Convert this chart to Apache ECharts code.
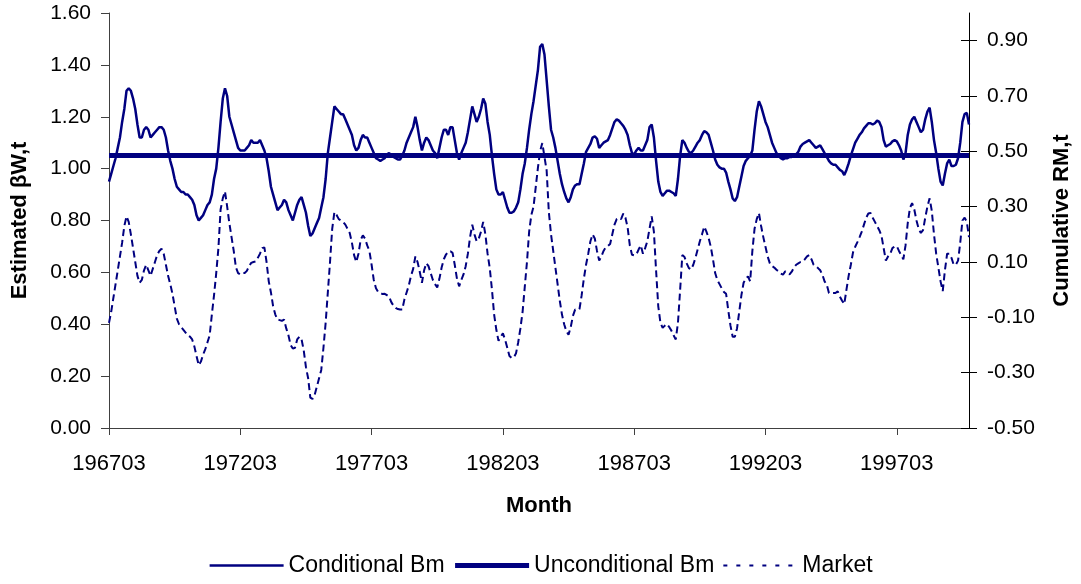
<!DOCTYPE html>
<html>
<head>
<meta charset="utf-8">
<script src="https://cdn.jsdelivr.net/npm/echarts@6/dist/echarts.min.js"></script>
<style>
  html, body { margin: 0; padding: 0; background: #fff; }
  #chart { width: 1081px; height: 584px; }
</style>
</head>
<body>
<div id="chart"></div>
<script>
// monthly values, 196703 .. 199912
const conditionalBm = [
  0.95,0.98,1.01,1.04,1.08,1.12,1.18,1.23,1.30,1.31,
  1.30,1.27,1.23,1.17,1.12,1.12,1.15,1.16,1.15,1.12,
  1.13,1.14,1.15,1.16,1.16,1.15,1.12,1.07,1.03,1.00,
  0.96,0.93,0.92,0.91,0.91,0.90,0.90,0.89,0.88,0.86,
  0.82,0.80,0.81,0.82,0.84,0.86,0.87,0.90,0.96,1.00,
  1.08,1.18,1.27,1.31,1.28,1.20,1.17,1.14,1.11,1.08,
  1.07,1.07,1.07,1.08,1.09,1.11,1.10,1.10,1.10,1.11,
  1.09,1.07,1.04,0.99,0.93,0.90,0.87,0.84,0.85,0.86,
  0.88,0.87,0.84,0.82,0.80,0.83,0.86,0.88,0.89,0.86,
  0.83,0.78,0.74,0.75,0.77,0.79,0.81,0.85,0.89,0.96,
  1.06,1.12,1.18,1.24,1.23,1.22,1.21,1.21,1.19,1.17,
  1.15,1.13,1.09,1.07,1.08,1.11,1.13,1.12,1.12,1.10,
  1.08,1.06,1.04,1.035,1.03,1.035,1.04,1.055,1.06,1.05,
  1.045,1.04,1.035,1.035,1.05,1.07,1.10,1.12,1.14,1.16,
  1.20,1.16,1.11,1.07,1.10,1.12,1.11,1.09,1.07,1.06,
  1.04,1.08,1.12,1.15,1.15,1.13,1.16,1.16,1.11,1.06,
  1.035,1.06,1.08,1.10,1.14,1.19,1.24,1.21,1.18,1.20,
  1.23,1.27,1.25,1.18,1.13,1.05,0.98,0.92,0.90,0.90,
  0.91,0.88,0.85,0.83,0.83,0.835,0.85,0.87,0.92,0.98,
  1.02,1.08,1.15,1.21,1.26,1.32,1.38,1.47,1.48,1.44,
  1.34,1.24,1.15,1.12,1.08,1.03,0.98,0.94,0.91,0.885,
  0.87,0.89,0.92,0.935,0.94,0.94,0.98,1.02,1.065,1.08,
  1.095,1.12,1.125,1.115,1.08,1.09,1.10,1.105,1.11,1.13,
  1.155,1.18,1.19,1.185,1.175,1.165,1.15,1.13,1.09,1.06,
  1.055,1.07,1.08,1.07,1.07,1.09,1.11,1.16,1.17,1.12,
  1.03,0.95,0.91,0.895,0.905,0.915,0.915,0.91,0.905,0.895,
  0.96,1.05,1.11,1.10,1.08,1.065,1.06,1.07,1.085,1.10,
  1.11,1.13,1.145,1.14,1.13,1.10,1.07,1.035,1.015,1.005,
  1.00,1.00,0.985,0.95,0.92,0.885,0.875,0.89,0.93,0.97,
  1.01,1.03,1.04,1.05,1.07,1.15,1.22,1.26,1.24,1.21,
  1.18,1.16,1.13,1.10,1.08,1.06,1.05,1.04,1.035,1.04,
  1.04,1.045,1.045,1.05,1.055,1.065,1.085,1.095,1.10,1.105,
  1.11,1.10,1.09,1.08,1.085,1.09,1.075,1.06,1.045,1.03,
  1.02,1.015,1.015,1.005,0.995,0.99,0.975,0.995,1.02,1.05,
  1.075,1.10,1.115,1.13,1.14,1.155,1.165,1.175,1.175,1.17,
  1.175,1.185,1.18,1.16,1.11,1.085,1.09,1.095,1.105,1.11,
  1.105,1.09,1.07,1.035,1.06,1.13,1.17,1.19,1.20,1.18,
  1.16,1.14,1.15,1.19,1.22,1.235,1.18,1.11,1.06,1.00,
  0.95,0.935,0.98,1.02,1.035,1.01,1.01,1.015,1.04,1.10,
  1.18,1.21,1.215,1.17
];

const market = [
  -0.12,-0.08,-0.03,0.02,0.07,0.12,0.17,0.23,0.265,0.245,
  0.20,0.15,0.10,0.05,0.025,0.035,0.07,0.09,0.07,0.05,
  0.075,0.10,0.125,0.14,0.148,0.13,0.09,0.05,0.02,-0.015,
  -0.06,-0.105,-0.125,-0.135,-0.145,-0.155,-0.165,-0.17,-0.18,-0.205,
  -0.24,-0.273,-0.26,-0.235,-0.215,-0.19,-0.165,-0.09,-0.02,0.06,
  0.15,0.29,0.33,0.355,0.30,0.24,0.19,0.14,0.08,0.06,
  0.055,0.06,0.06,0.068,0.085,0.097,0.10,0.102,0.115,0.13,
  0.15,0.153,0.10,0.03,-0.01,-0.06,-0.09,-0.108,-0.11,-0.113,
  -0.108,-0.14,-0.165,-0.20,-0.213,-0.21,-0.18,-0.17,-0.18,-0.22,
  -0.28,-0.32,-0.39,-0.395,-0.38,-0.35,-0.32,-0.29,-0.21,-0.12,
  -0.01,0.10,0.22,0.28,0.27,0.255,0.25,0.245,0.235,0.22,
  0.205,0.17,0.125,0.10,0.13,0.18,0.196,0.185,0.16,0.14,
  0.09,0.035,0.005,-0.008,-0.012,-0.016,-0.015,-0.02,-0.025,-0.045,
  -0.058,-0.066,-0.07,-0.072,-0.072,-0.035,-0.01,0.015,0.05,0.075,
  0.12,0.10,0.065,0.025,0.07,0.096,0.085,0.06,0.035,0.02,
  0.008,0.04,0.08,0.11,0.127,0.137,0.139,0.133,0.09,0.04,
  0.012,0.035,0.055,0.085,0.13,0.19,0.235,0.20,0.175,0.185,
  0.21,0.245,0.20,0.13,0.078,0.0,-0.09,-0.145,-0.185,-0.17,
  -0.158,-0.18,-0.21,-0.24,-0.247,-0.245,-0.23,-0.19,-0.14,-0.08,
  0.01,0.10,0.21,0.27,0.30,0.37,0.44,0.50,0.53,0.48,
  0.43,0.28,0.20,0.14,0.08,0.02,-0.04,-0.09,-0.125,-0.15,
  -0.163,-0.135,-0.095,-0.072,-0.072,-0.07,-0.02,0.04,0.09,0.13,
  0.175,0.20,0.185,0.14,0.105,0.12,0.14,0.153,0.158,0.165,
  0.20,0.235,0.255,0.26,0.255,0.275,0.26,0.225,0.16,0.126,
  0.124,0.127,0.145,0.16,0.13,0.15,0.175,0.22,0.265,0.21,
  0.07,-0.06,-0.12,-0.138,-0.13,-0.124,-0.135,-0.148,-0.165,-0.18,
  -0.12,0.0,0.125,0.118,0.095,0.078,0.073,0.09,0.115,0.145,
  0.175,0.20,0.228,0.21,0.187,0.155,0.11,0.06,0.035,0.02,
  0.005,-0.008,-0.015,-0.075,-0.13,-0.17,-0.17,-0.14,-0.08,-0.02,
  0.025,0.04,0.048,0.03,0.14,0.22,0.255,0.277,0.23,0.19,
  0.155,0.12,0.095,0.085,0.08,0.072,0.066,0.058,0.054,0.066,
  0.06,0.055,0.065,0.08,0.09,0.095,0.10,0.102,0.11,0.12,
  0.125,0.11,0.09,0.085,0.078,0.07,0.054,0.03,0.018,-0.012,
  -0.012,-0.012,-0.012,-0.006,-0.025,-0.04,-0.052,0.0,0.05,0.09,
  0.135,0.155,0.172,0.19,0.21,0.235,0.26,0.275,0.277,0.26,
  0.245,0.23,0.215,0.195,0.15,0.105,0.12,0.13,0.15,0.156,
  0.157,0.14,0.125,0.11,0.16,0.24,0.295,0.313,0.29,0.25,
  0.22,0.205,0.215,0.26,0.30,0.33,0.285,0.20,0.13,0.08,
  0.03,-0.005,0.07,0.13,0.13,0.115,0.09,0.09,0.105,0.17,
  0.25,0.26,0.245,0.19
];

// flat unconditional beta
const unconditionalBm = 1.05;

// right axis tick values (no tick at the 1.00 top)
const rightTicks = [-0.5, -0.3, -0.1, 0.1, 0.3, 0.5, 0.7, 0.9];

// month labels YYYYMM starting 196703
const months = [];
for (let i = 0; i < conditionalBm.length; i++) {
  const t = 1967 * 12 + 2 + i;
  const y = Math.floor(t / 12);
  const m = (t % 12) + 1;
  months.push(String(y) + (m < 10 ? '0' : '') + m);
}

const NAVY = '#000080';
const FONT = 'Liberation Sans, Arial, sans-serif';

const chart = echarts.init(document.getElementById('chart'), null, { renderer: 'canvas' });

// legend entries: hide the marker dot that line series draw by default
const hideDot = { opacity: 0 };

const option = {
  animation: false,
  backgroundColor: '#fff',
  textStyle: { fontFamily: FONT, color: '#000' },
  grid: { left: 109, right: 110, top: 13, bottom: 156, containLabel: false },
  legend: {
    bottom: 2,
    left: 'center',
    itemWidth: 74,
    itemHeight: 14,
    itemGap: 8,
    textStyle: { fontSize: 23, color: '#000', fontFamily: FONT },
    data: [
      { name: 'Conditional Bm', itemStyle: hideDot, lineStyle: { width: 2.5 } },
      { name: 'Unconditional Bm', itemStyle: hideDot, lineStyle: { width: 5 } },
      { name: 'Market', itemStyle: hideDot, lineStyle: { width: 2, type: [4, 9] } }
    ]
  },
  xAxis: {
    type: 'category',
    data: months,
    boundaryGap: false,
    name: 'Month',
    nameLocation: 'middle',
    nameGap: 67,
    nameTextStyle: { fontSize: 22, fontWeight: 'bold', color: '#000' },
    axisLine: { lineStyle: { color: '#404040', width: 1 } },
    axisTick: { interval: 59, length: 7, lineStyle: { color: '#404040' } },
    axisLabel: { interval: 59, fontSize: 22, color: '#000', margin: 25 },
    splitLine: { show: false }
  },
  yAxis: [
    {
      type: 'value',
      min: 0,
      max: 1.6,
      interval: 0.2,
      name: 'Estimated βW,t',
      nameLocation: 'middle',
      nameRotate: 90,
      nameGap: 78,
      nameTextStyle: { fontSize: 22, fontWeight: 'bold', color: '#000' },
      axisLine: { show: true, lineStyle: { color: '#404040', width: 1 } },
      axisTick: { show: true, length: 8, lineStyle: { color: '#404040' } },
      axisLabel: { fontSize: 21, color: '#000', margin: 18, formatter: v => v.toFixed(2) },
      splitLine: { show: false }
    },
    {
      type: 'value',
      position: 'right',
      min: -0.5,
      max: 1.0,
      name: 'Cumulative RM,t',
      nameLocation: 'middle',
      nameRotate: 90,
      nameGap: 82,
      nameTextStyle: { fontSize: 22, fontWeight: 'bold', color: '#000' },
      axisLine: { show: true, lineStyle: { color: '#000', width: 1 } },
      axisTick: { show: true, length: 8, customValues: rightTicks, lineStyle: { color: '#000' } },
      axisLabel: { fontSize: 21, color: '#000', margin: 18, customValues: rightTicks, formatter: v => v.toFixed(2) },
      splitLine: { show: false }
    },
    {
      // inner half of the crossing ticks on the right axis
      type: 'value',
      position: 'right',
      min: -0.5,
      max: 1.0,
      axisLine: { show: false },
      axisTick: { show: true, inside: true, length: 8, customValues: rightTicks, lineStyle: { color: '#000' } },
      axisLabel: { show: false },
      splitLine: { show: false }
    }
  ],
  series: [
    {
      name: 'Conditional Bm',
      type: 'line',
      yAxisIndex: 0,
      data: conditionalBm,
      symbol: 'none',
      lineStyle: { color: NAVY, width: 2.5 },
      itemStyle: { color: NAVY },
      z: 3
    },
    {
      name: 'Unconditional Bm',
      type: 'line',
      yAxisIndex: 0,
      data: [],
      symbol: 'none',
      lineStyle: { color: NAVY, width: 5 },
      itemStyle: { color: NAVY },
      markLine: {
        silent: true,
        symbol: 'none',
        label: { show: false },
        lineStyle: { color: NAVY, width: 5, type: 'solid' },
        data: [{ yAxis: unconditionalBm }]
      },
      z: 4
    },
    {
      name: 'Market',
      type: 'line',
      yAxisIndex: 1,
      data: market,
      symbol: 'none',
      lineStyle: { color: NAVY, width: 2, type: [7, 4] },
      itemStyle: { color: NAVY },
      z: 2
    }
  ]
};

chart.setOption(option);
</script>
</body>
</html>
